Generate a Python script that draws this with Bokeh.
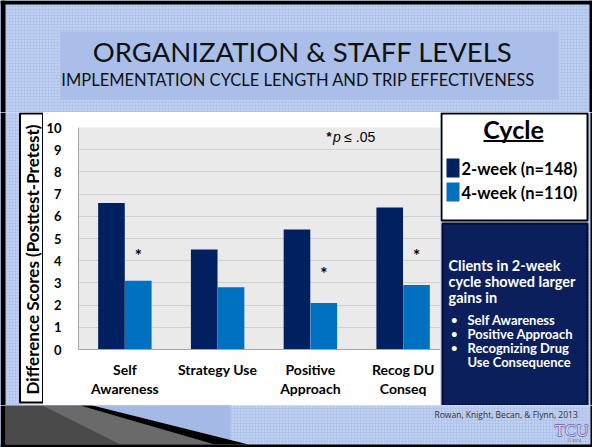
import numpy as np
from bokeh.plotting import figure
from bokeh.layouts import column, row
from bokeh.models import Range1d, FixedTicker
from bokeh.core.properties import value
from bokeh.embed import file_html
from bokeh.resources import INLINE

# ---------------- data ----------------
categories = ["Self\nAwareness", "Strategy Use", "Positive\nApproach", "Recog DU\nConseq"]
series_names = ["2-week (n=148)", "4-week (n=110)"]
two_week = [6.6, 4.5, 5.4, 6.4]
four_week = [3.1, 2.8, 2.1, 2.9]
series_colors = ["#002060", "#0070C0"]
y_ticks = [0, 1, 2, 3, 4, 5, 6, 7, 8, 9, 10]
sig_categories = ["Self\nAwareness", "Positive\nApproach", "Recog DU\nConseq"]
sig_marker_y = [4.4, 3.6, 4.4]

title_text = "ORGANIZATION & STAFF LEVELS"
subtitle_text = "IMPLEMENTATION CYCLE LENGTH AND TRIP EFFECTIVENESS"
y_label = "Difference Scores (Posttest-Pretest)"
legend_title = "Cycle"
note_lines = ["Clients in 2-week", "cycle showed larger", "gains in"]
bullet_lines = ["Self Awareness", "Positive Approach", "Recognizing Drug", "Use Consequence"]
bullet_marks = [True, True, True, False]
citation = "Rowan, Knight, Becan, & Flynn, 2013"

# ---------------- style ----------------
BG = "#B1C4EB"
HATCH = "#D6E1F6"
FONT = "Lato"
SVG = "svg"
SPLIT = 43  # x where the chart figure starts


def no_align(p):
    if "frame_align" in p.properties():
        p.frame_align = False
    return p


def deco(width, height, xr, yr):
    p = figure(width=width, height=height, x_range=Range1d(*xr), y_range=Range1d(*yr),
               x_axis_type=None, y_axis_type=None, toolbar_location=None,
               output_backend=SVG, min_border=0, outline_line_color=None)
    p.background_fill_color = BG
    p.border_fill_color = BG
    p.quad(left=[xr[0]], right=[xr[1]], bottom=[yr[0]], top=[yr[1]], fill_color=BG,
           line_color=None, hatch_pattern="dot", hatch_color=HATCH, hatch_scale=3,
           hatch_weight=1.2)
    return no_align(p)


# ---------------- top (title) ----------------
top = deco(592, 112, (0, 592), (112, 0))
top.quad(left=[0, 0, 589], right=[5, 592, 592], top=[0, 0, 0], bottom=[112, 4, 112],
         fill_color="black", line_color=None)
top.quad(left=[60], right=[558], top=[31], bottom=[99], fill_color="#A9BFEA", line_color=None)
top.text(x=[302], y=[51], text=[title_text], text_align="center", text_baseline="middle",
         text_font=value(FONT), text_font_size="27.5px", text_color="#111111")
top.text(x=[298], y=[79], text=[subtitle_text], text_align="center", text_baseline="middle",
         text_font=value(FONT), text_font_size="16.5px", text_color="#111111")

# ---------------- left strip (y label box) ----------------
left = deco(SPLIT, 293, (0, SPLIT), (405, 112))
left.quad(left=[0], right=[5], top=[112], bottom=[405], fill_color="black", line_color=None)
left.quad(left=[20], right=[SPLIT], top=[112], bottom=[404], fill_color="white", line_color=None)
left.quad(left=[19.5], right=[42.5], top=[113], bottom=[402], fill_color="white",
          line_color="black", line_width=2)
left.text(x=[31.5], y=[259], text=[y_label], angle=np.pi / 2, text_align="center",
          text_baseline="middle", text_font=value(FONT), text_font_style="bold",
          text_font_size="17px", text_color="black")

# ---------------- chart ----------------
pos = np.arange(len(categories)) + 0.5
chart = figure(width=440 - SPLIT, height=293, x_range=Range1d(0, 3.903), y_range=Range1d(0, 10),
               toolbar_location=None, output_backend=SVG,
               min_border_left=77 - SPLIT, min_border_right=0, min_border_top=15,
               min_border_bottom=56)
no_align(chart)
chart.background_fill_color = "#EAEAEA"
chart.border_fill_color = "white"
chart.outline_line_color = None

off = 0.1445
bw = 0.287
chart.vbar(x=pos - off, top=two_week, width=bw, fill_color=series_colors[0], line_color=None)
chart.vbar(x=pos + off, top=four_week, width=bw, fill_color=series_colors[1], line_color=None)

sig_x = [pos[categories.index(c)] + off for c in sig_categories]
chart.text(x=sig_x, y=sig_marker_y, text=["*"] * len(sig_x), text_align="center",
           text_baseline="middle", y_offset=4, text_font=value(FONT), text_font_style="bold",
           text_font_size="17px", text_color="black")

# p-value note
chart.text(x=[2.675], y=[9.6], text=["*"], text_align="left", text_baseline="middle",
           text_font=value("Liberation Sans"), text_font_style="bold", text_font_size="13px",
           text_color="black")
chart.text(x=[2.745], y=[9.57], text=["p"], text_align="left", text_baseline="middle",
           text_font=value("Liberation Sans"), text_font_style="italic", text_font_size="14px",
           text_color="black")
chart.text(x=[2.865], y=[9.57], text=["\u2264 .05"], text_align="left", text_baseline="middle",
           text_font=value("Liberation Sans"), text_font_size="14px", text_color="black")

chart.xgrid.visible = False
chart.ygrid.ticker = FixedTicker(ticks=y_ticks)
chart.ygrid.grid_line_color = "#D0D0D0"
chart.ygrid.grid_line_width = 1

ya = chart.yaxis[0]
ya.ticker = FixedTicker(ticks=y_ticks)
ya.axis_line_color = "#A6A6A6"
ya.major_tick_line_color = None
ya.minor_tick_line_color = None
ya.major_tick_out = 0
ya.major_tick_in = 0
ya.major_label_standoff = 17
ya.major_label_text_font = FONT
ya.major_label_text_font_style = "bold"
ya.major_label_text_font_size = "13px"
ya.major_label_text_color = "black"

xa = chart.xaxis[0]
xa.ticker = FixedTicker(ticks=list(pos))
xa.major_label_overrides = {float(p): c for p, c in zip(pos, categories)}
xa.axis_line_color = "#A6A6A6"
xa.major_tick_line_color = None
xa.minor_tick_line_color = None
xa.major_tick_out = 0
xa.major_tick_in = 0
xa.major_label_standoff = 11
xa.major_label_text_font = FONT
xa.major_label_text_font_style = "bold"
xa.major_label_text_font_size = "14px"
xa.major_label_text_color = "black"
xa.major_label_text_line_height = 1.15

# ---------------- side (legend + note) ----------------
side = deco(152, 293, (440, 592), (405, 112))
side.quad(left=[590], right=[592], top=[112], bottom=[405], fill_color="black", line_color=None)
side.quad(left=[441], right=[587], top=[113], bottom=[220], fill_color="white",
          line_color="black", line_width=2)
side.text(x=[513], y=[128], text=[legend_title], text_align="center", text_baseline="middle",
          text_font=value(FONT), text_font_style="bold", text_font_size="25px", text_color="black")
side.segment(x0=[483], x1=[543], y0=[140.5], y1=[140.5], line_color="black", line_width=1.8)
side.quad(left=[446, 446], right=[459, 459], top=[158, 182], bottom=[177, 201],
          fill_color=series_colors, line_color=None)
side.text(x=[461, 461], y=[168, 192], text=series_names, text_align="left", text_baseline="middle",
          text_font=value(FONT), text_font_style="bold", text_font_size="16.5px", text_color="black")

side.quad(left=[442], right=[587], top=[223], bottom=[405], fill_color="#0B1F5C",
          line_color="#050d28", line_width=2)
side.text(x=[448] * 3, y=[265, 281, 297], text=note_lines, text_align="left", text_baseline="middle",
          text_font=value(FONT), text_font_style="bold", text_font_size="14.5px", text_color="white")
by = [319, 333, 347, 361]
side.text(x=[450] * sum(bullet_marks), y=[y for y, m in zip(by, bullet_marks) if m],
          text=["\u2022"] * sum(bullet_marks), text_align="left", text_baseline="middle",
          text_font=value(FONT), text_font_size="13px", text_color="white")
side.text(x=[467] * 4, y=by, text=bullet_lines, text_align="left", text_baseline="middle",
          text_font=value(FONT), text_font_style="bold", text_font_size="13px", text_color="white")

# ---------------- bottom ----------------
bottom = deco(592, 42, (0, 592), (447, 405))
bottom.patch(x=[5, 76, 214, 5], y=[404, 404, 444, 444], fill_color="#4A4A4A", line_color=None)
bottom.patch(x=[40, 76, 214, 120], y=[404, 404, 444, 444], fill_color="#8A8A8A",
             fill_alpha=0.5, line_color=None)
bottom.patch(x=[88, 230, 230], y=[404, 404, 440], fill_color="#A4B9E5", line_color=None)
bottom.patch(x=[76, 88, 248, 214], y=[404, 404, 444, 444], fill_color="black", line_color=None)
bottom.quad(left=[0, 0, 590], right=[5, 592, 592], top=[405, 444, 405], bottom=[447, 447, 447],
            fill_color="black", line_color=None)
bottom.text(x=[434], y=[414], text=[citation], text_align="left", text_baseline="middle",
            text_font=value("Open Sans"), text_font_size="8.5px", text_color="#333333")
for dx, dy in [(-0.7, 0), (0.7, 0), (0, -0.7), (0, 0.7)]:
    bottom.text(x=[571 + dx], y=[430 + dy], text=["TCU"], text_align="center",
                text_baseline="middle", text_font=value("Liberation Serif"),
                text_font_size="17px", text_color="#7A68B4")
bottom.text(x=[571], y=[430], text=["TCU"], text_align="center", text_baseline="middle",
            text_font=value("Liberation Serif"), text_font_size="17px", text_color="#DCD4F4")
bottom.text(x=[574], y=[440], text=["\u00a9 2014"], text_align="center", text_baseline="middle",
            text_font=value("Open Sans"), text_font_size="4px", text_color="#555555")

layout = column(top, row(left, chart, side), bottom)
open("out.html", "w").write(file_html(layout, INLINE))
